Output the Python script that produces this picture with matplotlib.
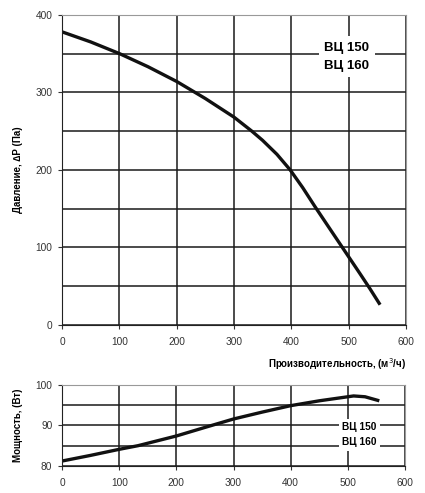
import matplotlib
matplotlib.use("Agg")
import matplotlib.pyplot as plt

plt.rcParams['font.family'] = ['Liberation Sans', 'DejaVu Sans']

# pressure curve
flow_p = [0, 50, 100, 150, 200, 250, 300, 331, 350, 375, 398, 420, 441, 470, 500, 520, 537, 555]
pressure = [378, 365, 350, 333, 314, 292, 268, 250, 238, 220, 200, 177, 153, 121, 88, 66, 47, 26]

# power curve
flow_w = [0, 50, 100, 133, 200, 252, 300, 350, 400, 450, 490, 510, 530, 555]
power = [81.2, 82.6, 84.1, 85.0, 87.4, 89.6, 91.6, 93.3, 94.9, 96.1, 96.9, 97.3, 97.1, 96.1]

model_labels = ["ВЦ 150", "ВЦ 160"]

fig = plt.figure(figsize=(4.25, 4.93), dpi=100)
ax1 = fig.add_axes([0.146, 0.341, 0.809, 0.629])
ax2 = fig.add_axes([0.146, 0.055, 0.807, 0.164])

for ax in (ax1, ax2):
    ax.set_xlim(0, 600)
    ax.set_xticks(range(0, 601, 100))
    ax.grid(True, which='both', color='#1a1a1a', linewidth=1.1)
    ax.set_axisbelow(True)
    ax.tick_params(labelsize=7.3, length=3, width=0.8, colors='#333333', pad=4)
    ax.tick_params(axis='x', pad=5.5)
    for s in ('top', 'right'):
        ax.spines[s].set_color('#999999')
    for s in ('left', 'bottom'):
        ax.spines[s].set_color('#222222')

ax1.set_ylim(0, 400)
ax1.set_yticks(range(0, 401, 100))
ax1.set_yticks(range(0, 401, 50), minor=True)
ax1.tick_params(axis='y', which='minor', length=0)
ax1.plot(flow_p, pressure, color='#111111', linewidth=2.4,
         solid_capstyle='butt', solid_joinstyle='round')
ax1.set_ylabel("Давление, ∆P (Па)", fontsize=7, fontweight='bold', labelpad=9)
ax1.set_xlabel("Производительность, (м$^3$/ч)", fontsize=7, fontweight='bold',
               loc='right', labelpad=7)
ax1.text(497, 346, "\n".join(model_labels), fontsize=9.5, fontweight='bold',
         ha='center', va='center', linespacing=1.65,
         bbox=dict(facecolor='white', edgecolor='none', pad=4))

ax2.set_ylim(80, 100)
ax2.set_yticks(range(80, 101, 10))
ax2.set_yticks(range(80, 101, 5), minor=True)
ax2.tick_params(axis='y', which='minor', length=0)
ax2.plot(flow_w, power, color='#111111', linewidth=2.4,
         solid_capstyle='butt', solid_joinstyle='round')
ax2.set_ylabel("Мощность, (Вт)", fontsize=7, fontweight='bold', labelpad=9)
ax2.text(520, 87.7, "\n".join(model_labels), fontsize=7.3, fontweight='bold',
         ha='center', va='center', linespacing=1.6,
         bbox=dict(facecolor='white', edgecolor='none', pad=2.5))

fig.savefig("out.png", dpi=100)
